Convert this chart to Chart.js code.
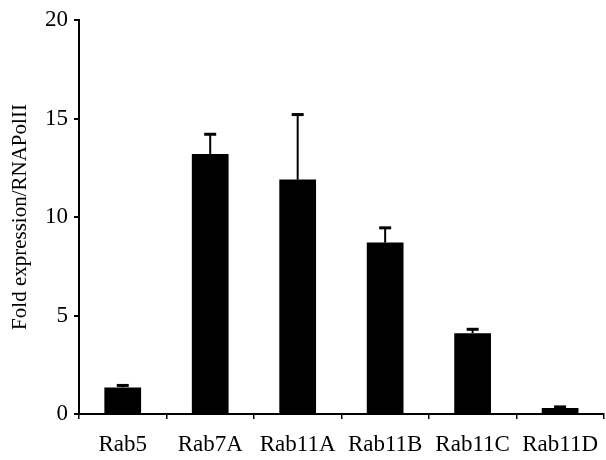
<!DOCTYPE html>
<html>
<head>
<meta charset="utf-8">
<script src="https://cdn.jsdelivr.net/npm/chart.js@4/dist/chart.umd.min.js"></script>
<style>
html,body{margin:0;padding:0;background:#fff;}
#wrap{width:606px;height:460px;overflow:hidden;position:relative;}
canvas{display:block;}
</style>
</head>
<body>
<div id="wrap"><canvas id="c" width="610" height="460"></canvas></div>
<script>
const categories = ['Rab5', 'Rab7A', 'Rab11A', 'Rab11B', 'Rab11C', 'Rab11D'];
const values = [1.35, 13.2, 11.9, 8.7, 4.1, 0.3];
const errorTop = [1.45, 14.2, 15.2, 9.45, 4.3, 0.36];
const yTicks = [0, 5, 10, 15, 20];
const yTitle = 'Fold expression/RNAPolII';

const errorBars = {
  id: 'errorBars',
  afterDatasetsDraw(chart) {
    const ctx = chart.ctx;
    const meta = chart.getDatasetMeta(0);
    const y = chart.scales.y;
    ctx.save();
    ctx.strokeStyle = '#000';
    meta.data.forEach((el, i) => {
      const top = y.getPixelForValue(errorTop[i]);
      ctx.lineWidth = 2;
      ctx.beginPath();
      ctx.moveTo(el.x, el.y);
      ctx.lineTo(el.x, top);
      ctx.stroke();
      ctx.lineWidth = 3;
      ctx.beginPath();
      ctx.moveTo(el.x - 6, top);
      ctx.lineTo(el.x + 6, top);
      ctx.stroke();
    });
    ctx.restore();
  }
};

new Chart(document.getElementById('c'), {
  type: 'bar',
  data: {
    labels: categories,
    datasets: [{
      data: values,
      backgroundColor: '#000',
      borderWidth: 0,
      barPercentage: 0.42,
      categoryPercentage: 1.0
    }]
  },
  options: {
    responsive: false,
    animation: false,
    layout: { padding: { top: 20, right: 0, bottom: 0, left: 0 } },
    plugins: { legend: { display: false }, tooltip: { enabled: false } },
    scales: {
      x: {
        offset: true,
        grid: { offset: true, drawOnChartArea: false, drawTicks: true, tickLength: 5, color: '#000', lineWidth: 1.5 },
        border: { display: true, color: '#000', width: 2 },
        ticks: { color: '#000', font: { family: 'Liberation Serif', size: 23 }, padding: 12, maxRotation: 0, autoSkip: false },
        afterFit(scale) { scale.height = 46; }
      },
      y: {
        min: 0, max: 20,
        afterBuildTicks(scale) { scale.ticks = yTicks.map(v => ({ value: v })); },
        grid: { drawOnChartArea: false, drawTicks: true, tickLength: 5, color: '#000', lineWidth: 2 },
        border: { display: true, color: '#000', width: 2 },
        ticks: { color: '#000', font: { family: 'Liberation Serif', size: 23 }, padding: 6 },
        title: { display: true, text: yTitle, color: '#000', font: { family: 'Liberation Serif', size: 21 }, padding: { top: 8, bottom: 0 } },
        afterFit(scale) { scale.width = 79; }
      }
    }
  },
  plugins: [errorBars]
});
</script>
</body>
</html>
